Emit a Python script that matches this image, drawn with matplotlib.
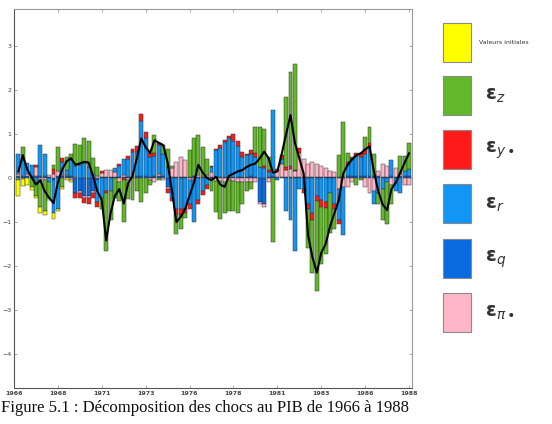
import numpy as np
import matplotlib

matplotlib.use("Agg")
import matplotlib.pyplot as plt
from matplotlib.patches import Rectangle

# quarterly historical decomposition, 1966Q2 .. 1988Q3 (90 bars)
start_year = 1966.25
initial = [-0.35, -0.15, -0.15, -0.08, -0.05, -0.15, -0.1, -0.05, -0.12, -0.05, -0.05, -0.05, -0.05] + [0.0] * 77
eps_z = [-0.05, 0.3, 0, -0.2, -0.3, -0.6, -0.7, -0.35, 0.1, 0.55,
         -0.2, 0.3, 0.15, 0.5, 0.45, 0.55, 0.6, 0.35, 0.2, -0.25,
         -1.3, -0.65, -0.45, -0.45, -0.95, -0.42, -0.5, -0.3, -0.55, -0.35,
         -0.1, 0.4, -0.05, 0.2, 0.4, 0.05, -0.45, -0.3, -0.1, 0.6,
         0.88, 0.9, 0.65, 0.35, -0.3, -0.7, -0.85, -0.72, -0.7, -0.7,
         -0.72, -0.5, -0.2, -0.15, 0.6, 0.9, 0.85, 0.3, -1.45, 0,
         0, 1.6, 2.15, 2.4, 0, 0, -0.9, -1.2, -2.05, -1.3,
         -1.05, -0.9, -0.45, 0.5, 1.25, 0.2, 0, -0.15, -0.05, 0.3,
         0.35, 0.5, -0.25, -0.7, -0.95, -0.45, 0, 0.4, 0.35, 0.6]
eps_y = [0, 0, 0, 0, 0.05, 0, 0, 0, 0.1, 0,
         0.08, 0, 0, -0.1, -0.1, -0.12, -0.15, -0.1, -0.1, 0.05,
         -0.05, 0, 0, 0.05, -0.05, 0.08, 0.05, 0.12, 0.15, 0.15,
         0.1, 0.08, 0.05, 0, -0.08, -0.08, -0.12, -0.15, -0.1, -0.1,
         0, -0.08, -0.08, -0.1, 0.03, 0.03, 0.08, 0.05, 0.05, 0.15,
         0.1, 0.12, 0.02, 0.1, 0.08, 0, 0.05, 0.05, 0, 0.06,
         0.1, 0.07, 0.06, 0.04, 0.1, -0.08, -0.1, -0.15, -0.12, -0.15,
         -0.12, 0, -0.1, -0.1, 0, 0.07, 0.05, 0.08, 0.1, 0.08,
         0.1, 0, 0, 0, 0, 0, 0, 0, 0, 0]
eps_r = [0.45, 0.35, 0.25, 0.25, -0.1, 0.7, 0.5, -0.1, -0.75, -0.7,
         0.3, 0.1, 0.35, 0.25, 0.3, 0.35, 0.25, 0.1, -0.5, -0.45,
         -0.3, -0.3, 0.1, 0.25, 0.38, 0.4, 0.55, 0.55, 1.25, 0.85,
         0.45, 0.45, 0.65, 0.5, 0.25, -0.45, -0.7, -0.7, -0.7, -0.55,
         -0.95, -0.5, -0.3, -0.15, 0.1, 0.6, 0.65, 0.78, 0.88, 0.82,
         0.7, 0.45, 0.5, 0.5, 0.45, 0.25, 0.22, 0.1, 1.5, -0.05,
         0.1, -0.75, -0.95, -1.65, -0.25, -0.25, -0.6, -0.8, -0.4, -0.5,
         -0.55, -0.35, -0.6, -0.7, -1.1, 0.25, 0.38, 0.45, 0.42, 0.5,
         0.65, -0.3, -0.35, -0.25, -0.1, 0.35, -0.3, -0.35, 0.1, 0.15]
eps_q = [0.05, 0.05, 0.05, 0.05, 0.05, 0.05, 0.05, 0.02, -0.05, 0.05,
         0.05, 0.05, 0.05, -0.35, -0.3, -0.4, -0.4, -0.3, -0.05, 0.02,
         0.03, 0.03, 0.03, 0.03, 0.03, 0.03, 0.03, 0.05, 0.05, 0.05,
         0.03, 0.05, 0.05, 0.05, -0.2, 0.03, 0.02, 0.03, 0.02, 0.03,
         0.04, 0.03, 0.03, 0.03, 0.02, 0.03, 0.03, 0.03, 0.03, 0.03,
         0.03, 0.03, 0.03, 0.04, 0.03, -0.55, -0.6, 0.03, 0.05, 0.03,
         0.03, 0.03, 0.03, 0.03, 0.03, 0.03, 0.02, 0.02, 0.02, 0.02,
         0.02, 0.02, 0.03, 0.03, 0.03, 0.05, 0.05, 0.05, 0.05, 0.05,
         0.05, 0.05, 0.05, 0.03, 0.03, 0.05, 0.03, 0.05, 0.05, 0.05]
eps_pi = [0.05, -0.03, 0.05, 0, 0.2, -0.05, -0.05, 0.05, 0.1, 0.1,
          0.02, 0.03, -0.05, 0.03, -0.05, -0.05, -0.05, -0.05, 0.05, 0.1,
          0.15, 0.15, 0.1, -0.08, 0.03, -0.05, 0.02, 0, 0, 0,
          -0.05, -0.1, 0.05, -0.05, -0.05, 0.2, 0.35, 0.45, 0.38, -0.05,
          -0.05, 0.05, 0.02, 0.05, 0.12, -0.07, -0.07, -0.08, -0.05, -0.06,
          -0.08, -0.1, -0.1, -0.1, -0.1, -0.05, -0.05, -0.1, 0, 0.12,
          0.3, 0.15, 0.18, 0.12, 0.55, 0.4, 0.3, 0.35, 0.3, 0.25,
          0.2, 0.15, 0.1, -0.25, -0.2, -0.2, -0.1, 0, 0, -0.2,
          -0.35, -0.3, 0.1, 0.3, 0.25, -0.15, 0.2, 0.05, -0.15, -0.15]
gdp = [0.15, 0.52, 0.2, 0.02, -0.15, -0.05, -0.3, -0.45, -0.57, -0.1,
       0.2, 0.38, 0.45, 0.3, 0.33, 0.37, 0.35, 0.05, -0.3, -0.5,
       -1.42, -0.8, -0.4, -0.25, -0.58, -0.12, 0.05, 0.45, 0.9, 0.7,
       0.57, 0.86, 0.8, 0.75, 0.35, -0.3, -1.0, -0.88, -0.7, -0.4,
       -0.1, 0.3, 0.12, 0.0, -0.05, 0.03, -0.15, -0.2, 0.05, 0.1,
       0.15, 0.18, 0.25, 0.3, 0.33, 0.45, 0.6, 0.45, 0.12, 0.15,
       0.55, 1.0, 1.43, 0.8, 0.45, 0.1, -1.3, -1.8, -2.15, -1.7,
       -1.5, -1.1, -0.8, -0.5, 0.1, 0.3, 0.42, 0.52, 0.56, 0.65,
       0.72, 0.15, -0.3, -0.6, -0.73, -0.25, -0.1, 0.12, 0.35, 0.56]

tick_years = [1966, 1968.5, 1971, 1973.5, 1976, 1978.5, 1981, 1983.5, 1986, 1988.5]
tick_labels = ["1966", "1968", "1971", "1973", "1976", "1978", "1981", "1983", "1986", "1988"]

series = [
    ("Valeurs initiales", initial, "#ffff00"),
    ("ε$_{z}$", eps_z, "#62b82a"),
    ("ε$_{y\\bullet}$", eps_y, "#ff1a1a"),
    ("ε$_{r}$", eps_r, "#1296f5"),
    ("ε$_{q}$", eps_q, "#0a6ae0"),
    ("ε$_{\\pi\\bullet}$", eps_pi, "#ffb6c8"),
]
# stacking order outward from zero
stack_order = [4, 5, 3, 2, 1, 0]

W, H = 552, 424
fig = plt.figure(figsize=(W / 100, H / 100), dpi=100)
ax = fig.add_axes([14 / W, 1 - 388 / H, (412 - 14) / W, (388 - 9) / H])

x = start_year + 0.25 * np.arange(len(gdp))
pos_base = np.zeros(len(x))
neg_base = np.zeros(len(x))
for idx in stack_order:
    vals = np.array(series[idx][1], dtype=float)
    pos = np.clip(vals, 0, None)
    neg = np.clip(vals, None, 0)
    for part, base in ((pos, pos_base), (neg, neg_base)):
        mask = part != 0
        ax.bar(x[mask], part[mask], bottom=base[mask], width=0.225,
               color=series[idx][2], edgecolor="#333333", linewidth=0.35)
    pos_base += pos
    neg_base += neg

ax.plot(x, gdp, color="black", linewidth=1.5)

ax.set_xlim(1966, 1988.67)
ax.set_ylim(-4.77, 3.84)
ax.set_xticks(tick_years)
ax.set_xticklabels(tick_labels, fontweight="bold")
ax.set_yticks([-4, -3, -2, -1, 0, 1, 2, 3])
ax.tick_params(direction="in", length=2, width=0.5, labelsize=4.5, colors="#888888",
               labelcolor="#444444", top=True, right=True, pad=2)
for side, spine in ax.spines.items():
    spine.set_color("#9a9a9a" if side in ("top", "right") else "#555555")
    spine.set_linewidth(0.8)

# legend drawn as separate boxes on the right
box_tops = [23, 76, 130, 184, 239, 293]
for (label, _, color), top in zip(series, box_tops):
    fig.add_artist(Rectangle((443 / W, 1 - (top + 39) / H), 28 / W, 39 / H,
                             transform=fig.transFigure, facecolor=color,
                             edgecolor="#8a8a8a", linewidth=0.8))
    if label == "Valeurs initiales":
        fig.text(479 / W, 1 - (top + 20) / H, label, fontsize=4.5, color="#333333",
                 va="center", ha="left")
    else:
        fig.text(485 / W, 1 - (top + 20) / H, label, fontsize=14, color="#333333",
                 fontweight="bold", va="center", ha="left")

fig.text(1 / W, 1 - 408 / H, "Figure 5.1 : Décomposition des chocs au PIB de 1966 à 1988",
         fontsize=12, family="Liberation Serif", va="center", ha="left", color="#111111")

fig.savefig("out.png", dpi=100)
